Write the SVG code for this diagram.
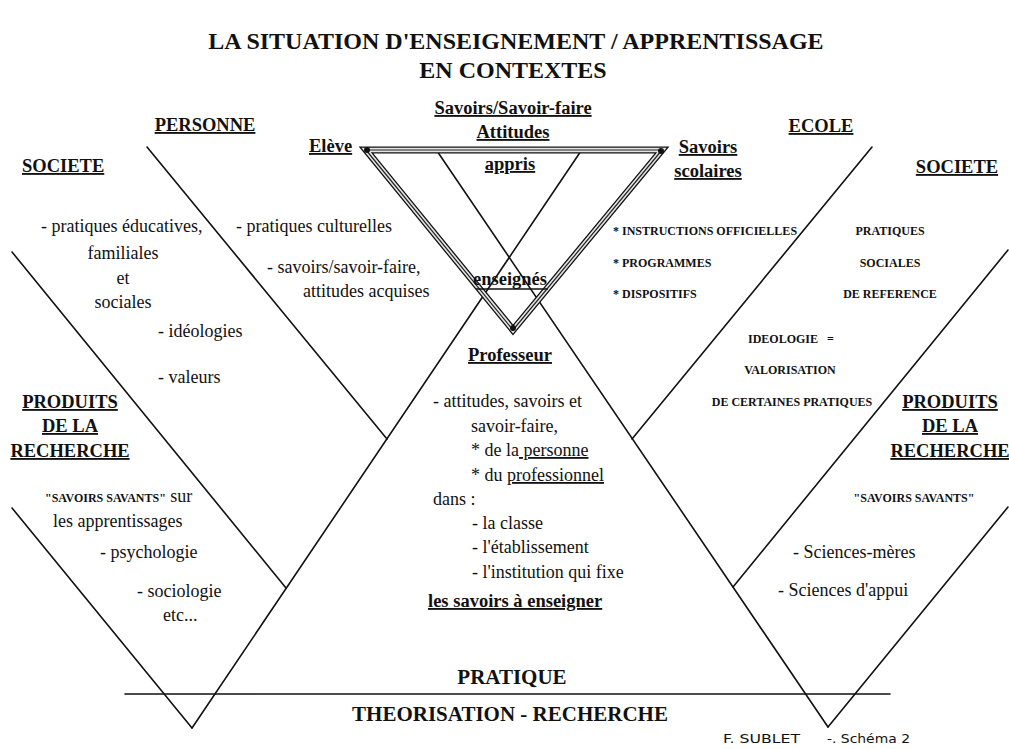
<svg xmlns="http://www.w3.org/2000/svg" width="1009" height="749" viewBox="0 0 1009 749">
<style>
  text { font-family: "Liberation Serif", "Times New Roman", serif; fill: #111; }
  .t { font-size: 24px; font-weight: bold; }
  .h { font-size: 18.5px; font-weight: bold; text-decoration: underline; }
  .r { font-size: 18px; }
  .s { font-size: 12px; font-weight: bold; }
  .b { font-size: 21px; font-weight: bold; }
  .u { text-decoration: underline; }
  .m { text-anchor: middle; }
  .sig { font-family: "DejaVu Sans", sans-serif; font-size: 13px; }
  .ln { stroke: #111; stroke-width: 1.6; fill: none; stroke-linecap: round; }
  .tri1 { fill: none; stroke: #111; stroke-width: 7; stroke-linejoin: miter; }
  .tri2 { fill: none; stroke: #e4e4e4; stroke-width: 4.4; stroke-linejoin: miter; }
  .tri3 { fill: none; stroke: #222; stroke-width: 1.2; stroke-linejoin: miter; }
</style>
<rect width="1009" height="749" fill="#fff"/>

<g id="connectors">
  <line class="ln" x1="12" y1="252" x2="286" y2="588"/>
  <line class="ln" x1="147" y1="147" x2="387" y2="439"/>
  <line class="ln" x1="12" y1="508" x2="192" y2="728"/>
  <line class="ln" x1="192" y1="728" x2="583" y2="148"/>
  <line class="ln" x1="435" y1="148" x2="828" y2="727"/>
  <line class="ln" x1="828" y1="727" x2="1008" y2="507"/>
  <line class="ln" x1="1008" y1="250" x2="733" y2="587"/>
  <line class="ln" x1="872" y1="147" x2="632" y2="439"/>
  <line class="ln" x1="125" y1="694" x2="890" y2="694"/>
</g>

<g id="triangle">
  <polygon class="tri1" points="366,150 662,150 513,330"/>
  <polygon class="tri2" points="366,150 662,150 513,330"/>
  <polygon class="tri3" points="366,150 662,150 513,330"/>
  <circle cx="367" cy="150" r="3" fill="#111"/>
  <circle cx="661" cy="151" r="3" fill="#111"/>
  <circle cx="513" cy="328" r="3" fill="#111"/>
</g>

<g id="title">
  <text class="t m" x="516" y="49">LA SITUATION D'ENSEIGNEMENT / APPRENTISSAGE</text>
  <text class="t m" x="513" y="78">EN CONTEXTES</text>
</g>

<g id="societe-gauche">
  <text class="h" x="22" y="172">SOCIETE</text>
  <text class="r" x="41" y="232">- pratiques éducatives,</text>
  <text class="r m" x="123" y="259">familiales</text>
  <text class="r m" x="123" y="284">et</text>
  <text class="r m" x="123" y="308">sociales</text>
  <text class="r" x="158" y="337">- idéologies</text>
  <text class="r" x="158" y="383">- valeurs</text>
</g>

<g id="personne">
  <text class="h m" x="205" y="131">PERSONNE</text>
  <text class="r" x="236" y="232">- pratiques culturelles</text>
  <text class="r" x="267" y="273">- savoirs/savoir-faire,</text>
  <text class="r" x="303" y="297">attitudes acquises</text>
</g>

<g id="eleve">
  <text class="h" x="309" y="152">Elève</text>
</g>

<g id="savoirs-appris">
  <text class="h m" x="513" y="114">Savoirs/Savoir-faire</text>
  <text class="h m" x="513" y="138">Attitudes</text>
  <text class="h m" x="510" y="170">appris</text>
</g>

<g id="savoirs-scolaires">
  <text class="h m" x="708" y="153">Savoirs</text>
  <text class="h m" x="708" y="177">scolaires</text>
</g>

<g id="enseignes">
  <text class="m" x="510" y="285" style="font-size:18.5px;font-weight:bold">enseignés</text>
  <line x1="476" y1="289" x2="548" y2="289" stroke="#111" stroke-width="1.6"/>
</g>

<g id="ecole">
  <text class="h m" x="821" y="132">ECOLE</text>
  <text class="s" x="613" y="235">* INSTRUCTIONS OFFICIELLES</text>
  <text class="s" x="613" y="267">* PROGRAMMES</text>
  <text class="s" x="613" y="298">* DISPOSITIFS</text>
</g>

<g id="societe-droite">
  <text class="h m" x="957" y="173">SOCIETE</text>
  <text class="s m" x="890" y="235">PRATIQUES</text>
  <text class="s m" x="890" y="267">SOCIALES</text>
  <text class="s m" x="890" y="298">DE REFERENCE</text>
  <text class="s" x="748" y="343">IDEOLOGIE<tspan dx="9">=</tspan></text>
  <text class="s m" x="790" y="374">VALORISATION</text>
  <text class="s m" x="792" y="406">DE CERTAINES PRATIQUES</text>
</g>

<g id="produits-gauche">
  <text class="h m" x="70" y="408">PRODUITS</text>
  <text class="h m" x="70" y="432">DE LA</text>
  <text class="h m" x="70" y="457">RECHERCHE</text>
  <text x="45" y="502"><tspan class="s">"SAVOIRS SAVANTS"</tspan><tspan class="r"> sur</tspan></text>
  <text class="r" x="53" y="527">les apprentissages</text>
  <text class="r" x="100" y="558">- psychologie</text>
  <text class="r" x="137" y="597">- sociologie</text>
  <text class="r" x="163" y="621">etc...</text>
</g>

<g id="professeur">
  <text class="h m" x="510" y="361">Professeur</text>
  <text class="r" x="433" y="407">- attitudes, savoirs et</text>
  <text class="r" x="471" y="432">savoir-faire,</text>
  <text class="r" x="471" y="456">* de la<tspan class="u"> personne</tspan></text>
  <text class="r" x="471" y="481">* du <tspan class="u">professionnel</tspan></text>
  <text class="r" x="433" y="505">dans :</text>
  <text class="r" x="472" y="529">- la classe</text>
  <text class="r" x="472" y="553">- l'établissement</text>
  <text class="r" x="472" y="578">- l'institution qui fixe</text>
  <text class="h" x="428" y="607">les savoirs à enseigner</text>
</g>

<g id="produits-droite">
  <text class="h m" x="950" y="408">PRODUITS</text>
  <text class="h m" x="950" y="432">DE LA</text>
  <text class="h m" x="950" y="457">RECHERCHE</text>
  <text class="s m" x="914" y="502">"SAVOIRS SAVANTS"</text>
  <text class="r" x="793" y="558">- Sciences-mères</text>
  <text class="r" x="778" y="596">- Sciences d'appui</text>
</g>

<g id="bas">
  <text class="b m" x="512" y="684">PRATIQUE</text>
  <text class="b m" x="510" y="721">THEORISATION - RECHERCHE</text>
</g>

<g id="signature">
  <text class="sig" x="723" y="743" textLength="77" lengthAdjust="spacingAndGlyphs">F. SUBLET</text>
  <text class="sig" x="827" y="743" textLength="83" lengthAdjust="spacingAndGlyphs">-. Schéma 2</text>
</g>
</svg>
